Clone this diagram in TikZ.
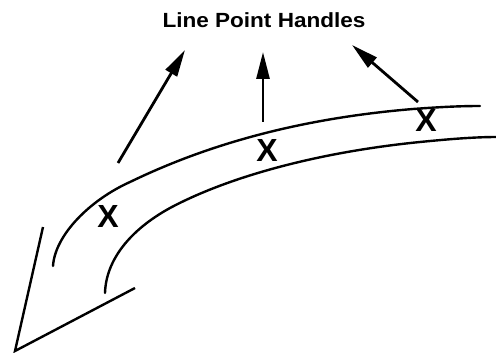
\documentclass[tikz,border=0pt]{standalone}
\usepackage{fontspec}
\setmainfont{Liberation Sans}
\usetikzlibrary{arrows.meta}
\begin{document}
\begin{tikzpicture}[x=1pt,y=-1pt,
  curve/.style={line width=2.4pt,line cap=round},
  pointer/.style={line width=2.8pt,-{Triangle[length=27pt,width=13pt]}},
  handlemark/.style={font=\bfseries\fontsize{32}{32}\selectfont,inner sep=0pt},
  title/.style={font=\bfseries\fontsize{20.5}{22}\selectfont,inner sep=0pt,xscale=1.1}]
\useasboundingbox (0,0) rectangle (496,353);
\node[title] (lbl) at (264,20) {Line Point Handles};
% band curves
\draw[curve] (53,266) .. controls (55,235) and (90,200) .. (130,182)
  .. controls (190,153) and (280,120) .. (413,109)
  .. controls (440,107) and (460,106) .. (480,106);
\draw[curve] (105,293) .. controls (106,260) and (130,230) .. (170,208)
  .. controls (230,176) and (320,152) .. (420,142)
  .. controls (450,139) and (475,137) .. (497,137);
% arrowhead lines
\coordinate (h1) at (43,227);
\coordinate (tip) at (15,351);
\coordinate (h2) at (135,288);
\draw[curve,line cap=butt] (h1) -- (tip) -- (h2);
% X marks
\node[handlemark] (x1) at (108,216) {X};
\node[handlemark] (x2) at (267,150) {X};
\node[handlemark] (x3) at (426,120) {X};
% pointers
\coordinate (t1) at (118,163);
\coordinate (t2) at (263,122);
\coordinate (t3) at (418,102);
\coordinate (e1) at (185,50);
\coordinate (e2) at (263,52);
\coordinate (e3) at (352,45);
\draw[pointer] (t1) -- (e1);
\draw[pointer] (t2) -- (e2);
\draw[pointer] (t3) -- (e3);
\end{tikzpicture}
\end{document}
